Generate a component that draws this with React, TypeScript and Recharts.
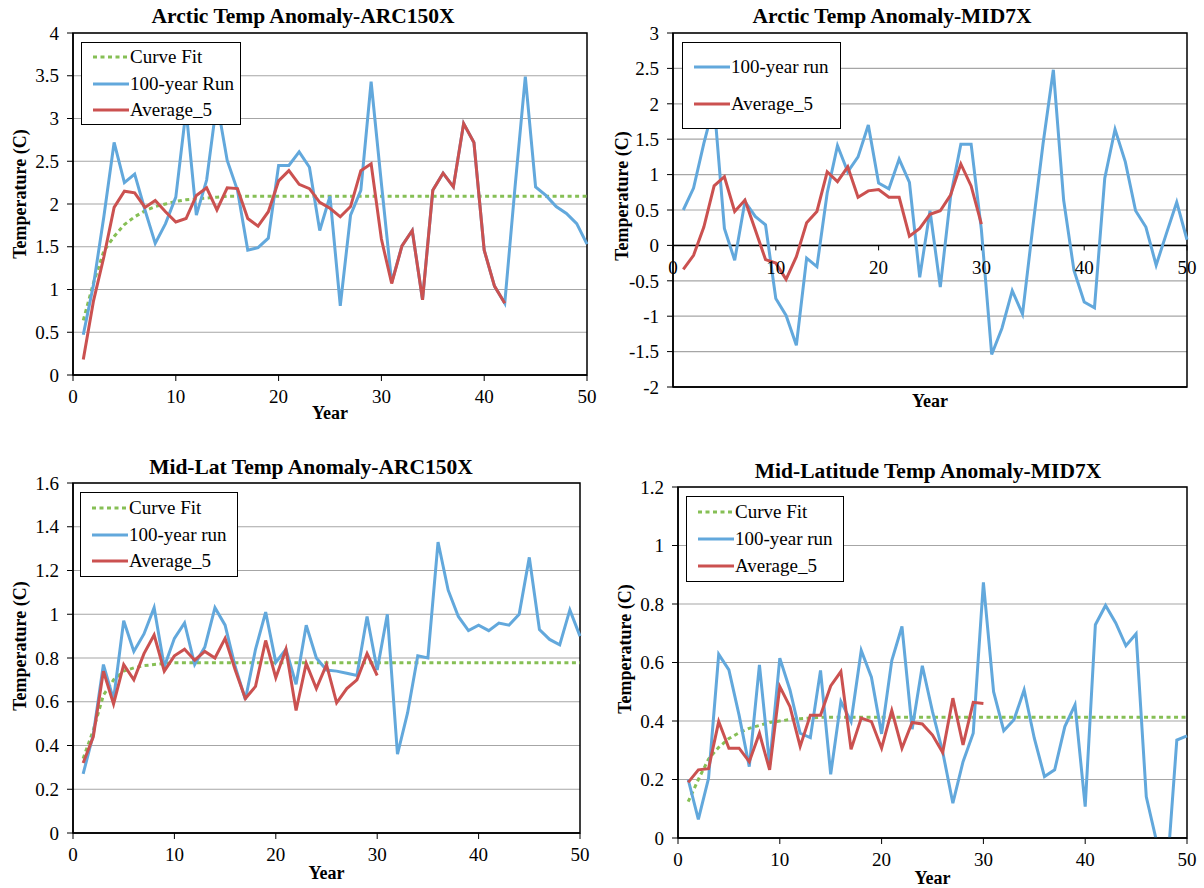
import { LineChart, Line, XAxis, YAxis, CartesianGrid, Legend, ReferenceArea, ReferenceLine, ReferenceDot } from "recharts";

const years = [
  1, 2, 3, 4, 5, 6, 7, 8, 9, 10, 11, 12, 13, 14, 15, 16, 17, 18, 19, 20, 21, 22, 23, 24, 25,
  26, 27, 28, 29, 30, 31, 32, 33, 34, 35, 36, 37, 38, 39, 40, 41, 42, 43, 44, 45, 46, 47, 48, 49, 50,
];
const xTicks = [0, 10, 20, 30, 40, 50];

// Arctic temp anomaly, ARC150X
const arcArcRun = [
  0.47, 1.06, 1.85, 2.72, 2.25, 2.35, 1.93, 1.54, 1.77, 2.08, 3.1, 1.87, 2.28, 3.2, 2.51, 2.16, 1.46, 1.49, 1.6, 2.45,
  2.45, 2.61, 2.43, 1.69, 2.09, 0.81, 1.87, 2.16, 3.43, 2.24, 1.08, 1.51, 1.69, 0.88, 2.16, 2.36, 2.2, 2.94, 2.72, 1.46,
  1.04, 0.84, 2.2, 3.49, 2.2, 2.1, 1.97, 1.89, 1.77, 1.53,
];
const arcArcAvg = [
  0.18, 0.87, 1.38, 1.96, 2.15, 2.13, 1.96, 2.04, 1.91, 1.79, 1.83, 2.1, 2.19, 1.93, 2.19, 2.18, 1.83, 1.74, 1.91, 2.27,
  2.39, 2.23, 2.18, 2.02, 1.95, 1.85, 1.97, 2.39, 2.47, 1.59, 1.07, 1.51, 1.69, 0.88, 2.16, 2.36, 2.2, 2.94, 2.72, 1.46,
  1.04, 0.84,
];
const arcArcFit = [
  0.64, 1.08, 1.45, 1.62, 1.76, 1.85, 1.92, 1.97, 2.0, 2.03, 2.05, 2.06, 2.07, 2.08, 2.09, 2.09, 2.09, 2.09, 2.09, 2.09,
  2.09, 2.09, 2.09, 2.09, 2.09, 2.09, 2.09, 2.09, 2.09, 2.09, 2.09, 2.09, 2.09, 2.09, 2.09, 2.09, 2.09, 2.09, 2.09, 2.09,
  2.09, 2.09, 2.09, 2.09, 2.09, 2.09, 2.09, 2.09, 2.09, 2.09,
];

// Arctic temp anomaly, MID7X
const arcMidRun = [
  0.5, 0.81, 1.44, 2.0, 0.24, -0.21, 0.62, 0.41, 0.29, -0.75, -0.99, -1.41, -0.18, -0.3, 0.74, 1.41, 1.04, 1.25, 1.7, 0.88,
  0.8, 1.22, 0.89, -0.45, 0.49, -0.59, 0.69, 1.43, 1.43, 0.22, -1.54, -1.17, -0.64, -0.97, 0.26, 1.44, 2.48, 0.64, -0.35, -0.8,
  -0.88, 0.95, 1.64, 1.18, 0.49, 0.26, -0.28, 0.17, 0.61, 0.08,
];
const arcMidAvg = [
  -0.34, -0.14, 0.26, 0.84, 0.97, 0.48, 0.64, 0.22, -0.2, -0.25, -0.48, -0.16, 0.32, 0.48, 1.04, 0.9, 1.11, 0.68, 0.77, 0.79,
  0.68, 0.68, 0.13, 0.24, 0.44, 0.49, 0.71, 1.15, 0.84, 0.3,
];

// Mid-latitude temp anomaly, ARC150X
const midArcRun = [
  0.27, 0.45, 0.77, 0.61, 0.97, 0.83, 0.91, 1.03, 0.76, 0.89, 0.96, 0.77, 0.85, 1.03, 0.95, 0.76, 0.61, 0.84, 1.01, 0.78,
  0.84, 0.68, 0.95, 0.8, 0.745, 0.74, 0.73, 0.72, 0.99, 0.745, 1.0, 0.36, 0.55, 0.81, 0.8, 1.33, 1.11, 0.99, 0.925, 0.95,
  0.925, 0.96, 0.95, 1.0, 1.26, 0.93, 0.885, 0.86, 1.02, 0.9,
];
const midArcAvg = [
  0.32, 0.44, 0.74, 0.59, 0.77, 0.7, 0.82, 0.905, 0.74, 0.81, 0.84, 0.79, 0.83, 0.8, 0.89, 0.745, 0.615, 0.67, 0.88, 0.71,
  0.84, 0.56, 0.775, 0.66, 0.77, 0.595, 0.66, 0.7, 0.82, 0.72,
];
const midArcFit = [
  0.34, 0.47, 0.63, 0.7, 0.74, 0.755, 0.765, 0.77, 0.775, 0.778, 0.778, 0.778, 0.778, 0.778, 0.778, 0.778, 0.778, 0.778, 0.778, 0.778,
  0.778, 0.778, 0.778, 0.778, 0.778, 0.778, 0.778, 0.778, 0.778, 0.778, 0.778, 0.778, 0.778, 0.778, 0.778, 0.778, 0.778, 0.778, 0.778, 0.778,
  0.778, 0.778, 0.778, 0.778, 0.778, 0.778, 0.778, 0.778, 0.778, 0.778,
];

// Mid-latitude temp anomaly, MID7X
const midMidRun = [
  0.2, 0.064, 0.204, 0.628, 0.575, 0.42, 0.244, 0.592, 0.25, 0.615, 0.506, 0.358, 0.343, 0.573, 0.218, 0.467, 0.398, 0.641, 0.55, 0.356,
  0.607, 0.723, 0.372, 0.589, 0.432, 0.295, 0.119, 0.261, 0.358, 0.874, 0.5, 0.367, 0.404, 0.506, 0.341, 0.21, 0.233, 0.381, 0.455, 0.107,
  0.729, 0.795, 0.735, 0.657, 0.698, 0.141, -0.01, -0.14, 0.335, 0.349,
];
const midMidAvg = [
  0.19, 0.233, 0.237, 0.398, 0.307, 0.307, 0.261, 0.358, 0.233, 0.518, 0.449, 0.313, 0.42, 0.42, 0.52, 0.569, 0.303, 0.41, 0.398, 0.307,
  0.436, 0.307, 0.395, 0.39, 0.352, 0.292, 0.478, 0.318, 0.464, 0.46,
];
const midMidFit = [
  0.124, 0.2, 0.27, 0.31, 0.34, 0.36, 0.375, 0.385, 0.395, 0.4, 0.405, 0.408, 0.41, 0.413, 0.413, 0.413, 0.413, 0.413, 0.413, 0.413,
  0.413, 0.413, 0.413, 0.413, 0.413, 0.413, 0.413, 0.413, 0.413, 0.413, 0.413, 0.413, 0.413, 0.413, 0.413, 0.413, 0.413, 0.413, 0.413, 0.413,
  0.413, 0.413, 0.413, 0.413, 0.413, 0.413, 0.413, 0.413, 0.413, 0.413,
];

const SERIF = "Liberation Serif, Tinos, Times New Roman, Nimbus Roman, DejaVu Serif, serif";
const BLUE = "#62a8dc";
const RED = "#cb5150";
const GREEN = "#86bf55";
const FIT_DASH = "4 3.5";

interface Series {
  key: string;
  label: string;
  color: string;
  dash?: string;
  values: number[];
}

interface PanelProps {
  title: string;
  titleX: number;
  titleY: number;
  left: number;
  top: number;
  width: number;
  height: number;
  marginTop: number;
  marginRight: number;
  yWidth: number;
  xHeight: number;
  yDomain: [number, number];
  yTicks: number[];
  series: Series[];
  legend: { left: number; top: number; w: number; h: number };
  yLabelX: number;
  yLabelY: number;
  xLabelDy: number;
  zeroAxis?: boolean;
}

function LegendBox({ items, w, h }: { items: Series[]; w: number; h: number }) {
  return (
    <div
      style={{
        width: w,
        height: h,
        boxSizing: "border-box",
        border: "1px solid #000",
        background: "#fff",
        display: "flex",
        flexDirection: "column",
        justifyContent: "space-evenly",
        paddingLeft: 10,
      }}
    >
      {items.map((s) => (
        <div key={s.key} style={{ display: "flex", alignItems: "center", height: 24 }}>
          <svg width={38} height={10}>
            <line x1={1} y1={5} x2={37} y2={5} stroke={s.color} strokeWidth={3} strokeDasharray={s.dash} />
          </svg>
          <span style={{ fontSize: 19, fontFamily: SERIF, color: "#000", lineHeight: "20px" }}>{s.label}</span>
        </div>
      ))}
    </div>
  );
}

function Panel(p: PanelProps) {
  const data = years.map((year, i) => {
    const row: any = { year };
    p.series.forEach((s) => {
      row[s.key] = i < s.values.length ? s.values[i] : null;
    });
    return row;
  });

  const tickStyle = { fill: "#000", fontSize: 19, fontFamily: SERIF };

  return (
    <div style={{ position: "absolute", left: p.left, top: p.top, width: p.width, height: p.height }}>
      <div
        style={{
          position: "absolute",
          left: p.titleX - 300,
          top: p.titleY - 14,
          width: 600,
          textAlign: "center",
          fontFamily: SERIF,
          fontWeight: "bold",
          fontSize: 21.5,
          lineHeight: "28px",
          color: "#000",
          zIndex: 2,
        }}
      >
        {p.title}
      </div>
      <LineChart
        width={p.width}
        height={p.height}
        data={data}
        margin={{ top: p.marginTop, right: p.marginRight, bottom: 0, left: 0 }}
        style={{ fontFamily: SERIF }}
      >
        <CartesianGrid vertical={false} stroke="#a6a6a6" strokeWidth={1.2} />
        <XAxis
          dataKey="year"
          type="number"
          domain={[0, 50]}
          ticks={xTicks}
          interval={0}
          height={p.xHeight}
          tick={p.zeroAxis ? false : tickStyle}
          tickLine={p.zeroAxis ? false : { stroke: "#000" }}
          tickSize={6}
          tickMargin={9}
          axisLine={{ stroke: "#000", strokeWidth: 1.5 }}
          label={(props: any) => {
            const vb = props.viewBox;
            return (
              <text
                x={vb.x + vb.width / 2}
                y={vb.y + p.xLabelDy + 6}
                textAnchor="middle"
                fontFamily={SERIF}
                fontWeight="bold"
                fontSize={18}
                fill="#000"
              >
                Year
              </text>
            );
          }}
        />
        <YAxis
          type="number"
          domain={p.yDomain}
          ticks={p.yTicks}
          interval={0}
          allowDataOverflow
          width={p.yWidth}
          tick={tickStyle}
          tickLine={{ stroke: "#000" }}
          tickSize={6}
          tickMargin={8}
          tickFormatter={(v: number) => String(v)}
          axisLine={{ stroke: "#000", strokeWidth: 1.5 }}
          label={() => (
            <text
              x={p.yLabelX}
              y={p.yLabelY}
              transform={`rotate(-90 ${p.yLabelX} ${p.yLabelY})`}
              textAnchor="middle"
              dominantBaseline="central"
              fontFamily={SERIF}
              fontWeight="bold"
              fontSize={18}
              fill="#000"
            >
              Temperature (C)
            </text>
          )}
        />
        {p.zeroAxis && <ReferenceLine y={0} stroke="#000" strokeWidth={1.5} />}
        {p.zeroAxis &&
          xTicks.map((t) => (
            <ReferenceDot
              key={t}
              x={t}
              y={0}
              r={0}
              ifOverflow="visible"
              shape={(s: any) => (
                <g>
                  <line x1={s.cx} y1={s.cy} x2={s.cx} y2={s.cy + 5} stroke="#000" />
                  <text x={s.cx} y={s.cy + 29} textAnchor="middle" fontFamily={SERIF} fontSize={19} fill="#000">
                    {t}
                  </text>
                </g>
              )}
            />
          ))}
        {p.series.map((s) => (
          <Line
            key={s.key}
            type="linear"
            dataKey={s.key}
            name={s.label}
            stroke={s.color}
            strokeWidth={3}
            strokeDasharray={s.dash}
            dot={false}
            activeDot={false}
            isAnimationActive={false}
          />
        ))}
        <ReferenceArea
          x1={0}
          x2={50}
          y1={p.yDomain[0]}
          y2={p.yDomain[1]}
          fill="none"
          fillOpacity={0}
          stroke="#000"
          strokeWidth={1.5}
        />
        <Legend
          layout="vertical"
          align="center"
          verticalAlign="middle"
          wrapperStyle={{ left: p.legend.left, top: p.legend.top, width: p.legend.w, height: p.legend.h }}
          content={() => <LegendBox items={p.series} w={p.legend.w} h={p.legend.h} />}
        />
      </LineChart>
    </div>
  );
}

export default function App() {
  return (
    <div style={{ position: "absolute", left: 0, top: 0, width: 1204, height: 888, background: "#fff" }}>
      <Panel
        title="Arctic Temp Anomaly-ARC150X"
        titleX={303}
        titleY={16}
        left={0}
        top={0}
        width={600}
        height={430}
        marginTop={33}
        marginRight={13}
        yWidth={73}
        xHeight={55}
        yDomain={[0, 4]}
        yTicks={[0, 0.5, 1, 1.5, 2, 2.5, 3, 3.5, 4]}
        legend={{ left: 81, top: 42, w: 160, h: 83 }}
        yLabelX={20}
        yLabelY={194}
        xLabelDy={38}
        series={[
          { key: "fit", label: "Curve Fit", color: GREEN, dash: FIT_DASH, values: arcArcFit },
          { key: "run", label: "100-year Run", color: BLUE, values: arcArcRun },
          { key: "avg", label: "Average_5", color: RED, values: arcArcAvg },
        ]}
      />
      <Panel
        title="Arctic Temp Anomaly-MID7X"
        titleX={292}
        titleY={16}
        left={600}
        top={0}
        width={604}
        height={420}
        marginTop={33}
        marginRight={17}
        yWidth={73}
        xHeight={33}
        yDomain={[-2, 3]}
        yTicks={[-2, -1.5, -1, -0.5, 0, 0.5, 1, 1.5, 2, 2.5, 3]}
        legend={{ left: 82, top: 42, w: 159, h: 87 }}
        yLabelX={22}
        yLabelY={196}
        xLabelDy={14}
        zeroAxis
        series={[
          { key: "run", label: "100-year run", color: BLUE, values: arcMidRun },
          { key: "avg", label: "Average_5", color: RED, values: arcMidAvg },
        ]}
      />
      <Panel
        title="Mid-Lat Temp Anomaly-ARC150X"
        titleX={311}
        titleY={27}
        left={0}
        top={440}
        width={600}
        height={448}
        marginTop={43}
        marginRight={20}
        yWidth={73}
        xHeight={55}
        yDomain={[0, 1.6]}
        yTicks={[0, 0.2, 0.4, 0.6, 0.8, 1, 1.2, 1.4, 1.6]}
        legend={{ left: 80, top: 52, w: 158, h: 85 }}
        yLabelX={20}
        yLabelY={206}
        xLabelDy={40}
        series={[
          { key: "fit", label: "Curve Fit", color: GREEN, dash: FIT_DASH, values: midArcFit },
          { key: "run", label: "100-year run", color: BLUE, values: midArcRun },
          { key: "avg", label: "Average_5", color: RED, values: midArcAvg },
        ]}
      />
      <Panel
        title="Mid-Latitude Temp Anomaly-MID7X"
        titleX={328}
        titleY={31}
        left={600}
        top={440}
        width={604}
        height={448}
        marginTop={47}
        marginRight={17}
        yWidth={78}
        xHeight={50}
        yDomain={[0, 1.2]}
        yTicks={[0, 0.2, 0.4, 0.6, 0.8, 1, 1.2]}
        legend={{ left: 86, top: 56, w: 158, h: 86 }}
        yLabelX={25}
        yLabelY={209}
        xLabelDy={40}
        series={[
          { key: "fit", label: "Curve Fit", color: GREEN, dash: FIT_DASH, values: midMidFit },
          { key: "run", label: "100-year run", color: BLUE, values: midMidRun },
          { key: "avg", label: "Average_5", color: RED, values: midMidAvg },
        ]}
      />
    </div>
  );
}
